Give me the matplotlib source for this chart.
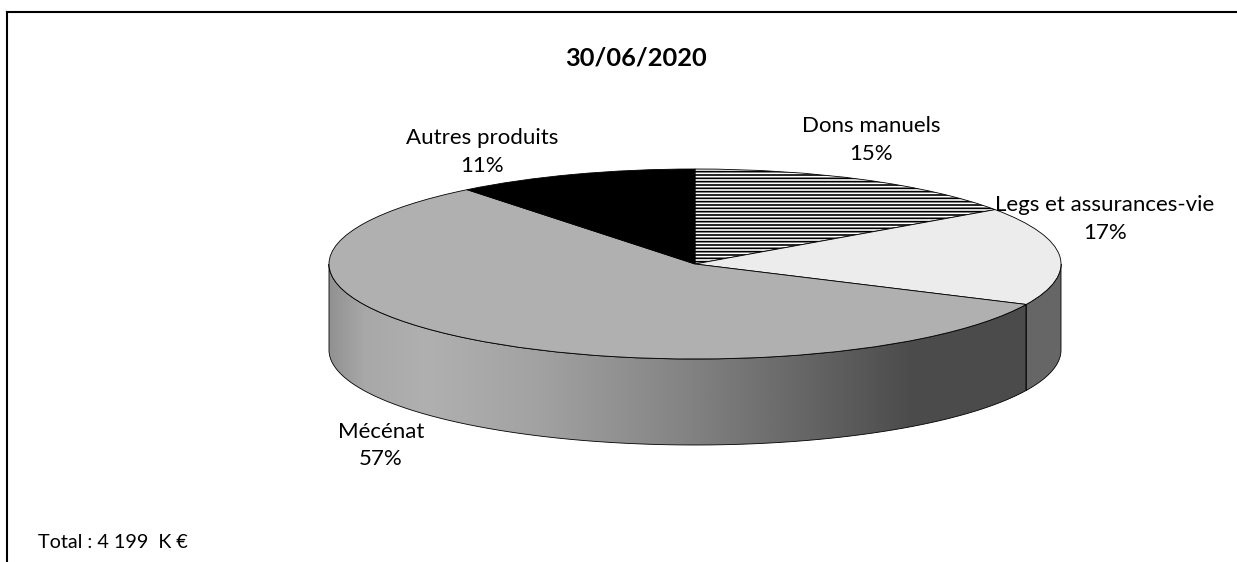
import numpy as np
import matplotlib
matplotlib.use("Agg")
import matplotlib.pyplot as plt
from matplotlib.lines import Line2D
from matplotlib.patches import Polygon
from matplotlib.colors import LinearSegmentedColormap

categories = ["Dons manuels", "Legs et assurances-vie", "Mécénat", "Autres produits"]
shares = [15.3, 16.7, 57.3, 10.7]
title_text = "30/06/2020"
total_text = "Total : 4 199  K €"

W, H = 1237, 562
CX, CY, RX, RY, DEPTH = 695, 264, 366, 95, 86

plt.rcParams["font.family"] = ["Lato", "DejaVu Sans"]
plt.rcParams["hatch.linewidth"] = 1.2

fig = plt.figure(figsize=(W / 100, H / 100), dpi=100, facecolor="white")
ax = fig.add_axes([0, 0, 1, 1])


def fx(x):
    return x / W


def fy(y):
    return 1 - y / H


wedges, _ = ax.pie(
    shares, startangle=90, counterclock=False, radius=1, center=(0, 0),
    colors=["white", "#ececec", "#b0b0b0", "black"],
    wedgeprops=dict(edgecolor="black", linewidth=0.6, zorder=3),
)
wedges[0].set_hatch("-----")

ax.set_aspect("auto")
xlim = (-CX / RX, (W - CX) / RX)
ylim = ((CY - H) / RY, CY / RY)
depth = DEPTH / RY

# side walls
cum = np.cumsum(shares) / np.sum(shares)
legs_end = 2 * np.pi * cum[1]


def wall(t0, t1):
    t = np.linspace(t0, t1, 200)
    x, y = np.sin(t), np.cos(t)
    return np.column_stack([np.r_[x, x[::-1]], np.r_[y, y[::-1] - depth]])


legs_wall = Polygon(wall(np.pi / 2, legs_end), closed=True, facecolor="#666666",
                    edgecolor="black", linewidth=0.6, zorder=2)
ax.add_patch(legs_wall)

mec_path = wall(legs_end, 1.5 * np.pi)
mec_wall = Polygon(mec_path, closed=True, facecolor="none", edgecolor="black",
                   linewidth=0.6, zorder=2.1)
ax.add_patch(mec_wall)
cmap = LinearSegmentedColormap.from_list(
    "wall",
    [(0.0, "#929292"), (0.05, "#a8a8a8"), (0.14, "#b0b0b0"), (0.3, "#a2a2a2"), (0.5, "#858585"),
     (0.7, "#636363"), (0.84, "#4b4b4b"), (1.0, "#4b4b4b")],
)
img = ax.imshow(np.linspace(0, 1, 1024)[None, :], cmap=cmap, aspect="auto",
                extent=(-1, np.sin(legs_end), -1 - depth, 0.2), zorder=1.9,
                interpolation="bilinear", vmin=0, vmax=1)
clip = Polygon(mec_path, closed=True, transform=ax.transData)
img.set_clip_path(clip)

ax.set_xlim(xlim)
ax.set_ylim(ylim)
ax.axis("off")

# frame (top and left only)
fig.add_artist(Line2D([fx(7.5), fx(7.5)], [fy(562), fy(12)], color="black", linewidth=1.5,
                      solid_capstyle="projecting"))
fig.add_artist(Line2D([fx(7.5), fx(1237)], [fy(12), fy(12)], color="black", linewidth=1.5,
                      solid_capstyle="projecting"))

# texts
fig.text(fx(636.5), fy(58.5), title_text, ha="center", va="center", fontsize=18.3, fontweight="bold")
label_pos = [(871.5, 140), (1105, 219), (381, 445.5), (482, 152)]
for name, val, (px, py) in zip(categories, shares, label_pos):
    fig.text(fx(px), fy(py), f"{name}\n{val:.0f}%", ha="center", va="center", fontsize=16,
             linespacing=1.47, color="black")
fig.text(fx(38), fy(542.5), total_text, ha="left", va="center", fontsize=14.2)

fig.savefig("out.png", dpi=100)
